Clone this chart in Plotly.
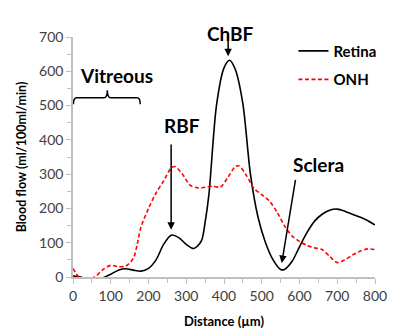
import plotly.graph_objects as go

# Retina (black solid)
retina_x = [0, 20, 40, 60, 80, 100, 120, 140, 160, 180, 200, 220, 240, 260, 280, 300, 320,
            340, 350, 360, 380, 400, 415, 430, 450, 470, 490, 510, 530, 550, 560, 580, 600,
            620, 640, 660, 680, 700, 720, 740, 760, 780, 800]
retina_y = [3, 0, -8, -8, -2, 8, 20, 24, 20, 17, 25, 50, 95, 122, 115, 95, 83,
            105, 160, 240, 500, 610, 632, 605, 505, 300, 175, 100, 50, 22, 22, 45, 88,
            130, 163, 183, 195, 198, 192, 183, 175, 165, 152]

# ONH (red dashed)
onh_x = [0, 15, 30, 50, 60, 80, 100, 120, 140, 160, 170, 180, 200, 220, 240, 260, 270, 290,
         310, 330, 350, 370, 390, 410, 430, 440, 460, 480, 500, 520, 540, 560, 580, 600,
         620, 640, 660, 680, 700, 720, 740, 760, 780, 800]
onh_y = [25, 0, -15, -3, 2, 22, 34, 30, 32, 55, 95, 145, 200, 245, 280, 318, 322, 300,
         268, 260, 262, 265, 262, 290, 322, 324, 295, 258, 240, 222, 190, 150, 120, 104,
         92, 85, 80, 60, 42, 50, 64, 75, 82, 80]

x_ticks = [0, 100, 200, 300, 400, 500, 600, 700, 800]
y_ticks = [0, 100, 200, 300, 400, 500, 600, 700]

FONT = "Lato"

fig = go.Figure()
fig.add_trace(go.Scatter(x=retina_x, y=retina_y, mode="lines", name="<b>Retina</b>",
                         legendgroup="a",
                         line=dict(color="black", width=1.6, shape="spline", smoothing=0.8)))
fig.add_trace(go.Scatter(x=onh_x, y=onh_y, mode="lines", name="<b>ONH</b>",
                         legendgroup="b",
                         line=dict(color="#ff0000", width=1.6, dash="4px,2.5px",
                                   shape="spline", smoothing=0.8)))

axis_common = dict(showgrid=False, zeroline=False, showline=True, linecolor="#bfbfbf",
                   linewidth=1.5, ticks="outside", tickcolor="#bfbfbf", ticklen=5,
                   tickwidth=1.2, automargin=False,
                   tickfont=dict(family=FONT, size=14, color="#404040"))

fig.update_xaxes(range=[0, 800], tickvals=x_ticks, ticktext=[str(v) for v in x_ticks],
                 minor=dict(dtick=50, ticks="outside", ticklen=4, tickcolor="#bfbfbf"),
                 title=dict(text="<b>Distance (µm)</b>", font=dict(family=FONT, size=13, color="black"),
                            standoff=14),
                 **axis_common)
fig.update_yaxes(range=[0, 700], tickvals=y_ticks, ticktext=[str(v) for v in y_ticks],
                 minor=dict(dtick=50, ticks="outside", ticklen=4, tickcolor="#bfbfbf"),
                 title=dict(text="<b>Blood flow (ml/100ml/min)</b>",
                            font=dict(family=FONT, size=12.5, color="black"), standoff=10),
                 **axis_common)

ann_font = dict(family=FONT, size=19, color="black")
annotations = [
    dict(x=115, y=589, xref="x", yref="y", text="<b>Vitreous</b>", showarrow=False, font=ann_font),
    dict(x=0.52, y=1.069, xref="paper", yref="paper", text="<b>ChBF</b>", showarrow=False, font=ann_font),
    dict(x=290, y=443, xref="x", yref="y", text="<b>RBF</b>", showarrow=False, font=ann_font),
    dict(x=649, y=327, xref="x", yref="y", text="<b>Sclera</b>", showarrow=False, font=ann_font),
    # arrows
    dict(x=411, y=644, ax=411, ay=711, xref="x", yref="y", axref="x", ayref="y", text="",
         showarrow=True, arrowhead=2, arrowsize=1, arrowwidth=1.5, arrowcolor="black"),
    dict(x=260, y=138, ax=260, ay=391, xref="x", yref="y", axref="x", ayref="y", text="",
         showarrow=True, arrowhead=2, arrowsize=1, arrowwidth=1.5, arrowcolor="black"),
    dict(x=553, y=41, ax=590, ay=288, xref="x", yref="y", axref="x", ayref="y", text="",
         showarrow=True, arrowhead=2, arrowsize=1, arrowwidth=1.5, arrowcolor="black"),
]

# curly brace under "Vitreous"
brace = dict(type="path", xref="x", yref="y",
             path="M 1,504 Q 1,523 10,523 L 82,523 Q 91,523 91,545 Q 91,523 100,523 "
                  "L 170,523 Q 178,523 178,504",
             line=dict(color="black", width=1.5))

# page body has an 8px margin, so the figure is sized/margined to compensate
fig.update_layout(
    width=392, height=328,
    margin=dict(l=64.5, r=25, t=28.7, b=58.5),
    paper_bgcolor="white", plot_bgcolor="white",
    annotations=annotations, shapes=[brace],
    showlegend=True,
    legend=dict(x=0.73, y=1.01, xanchor="left", yanchor="top", bgcolor="rgba(0,0,0,0)",
                font=dict(family=FONT, size=15, color="black"), itemwidth=30,
                tracegroupgap=6),
    font=dict(family=FONT),
)

fig.write_html("out.html")
